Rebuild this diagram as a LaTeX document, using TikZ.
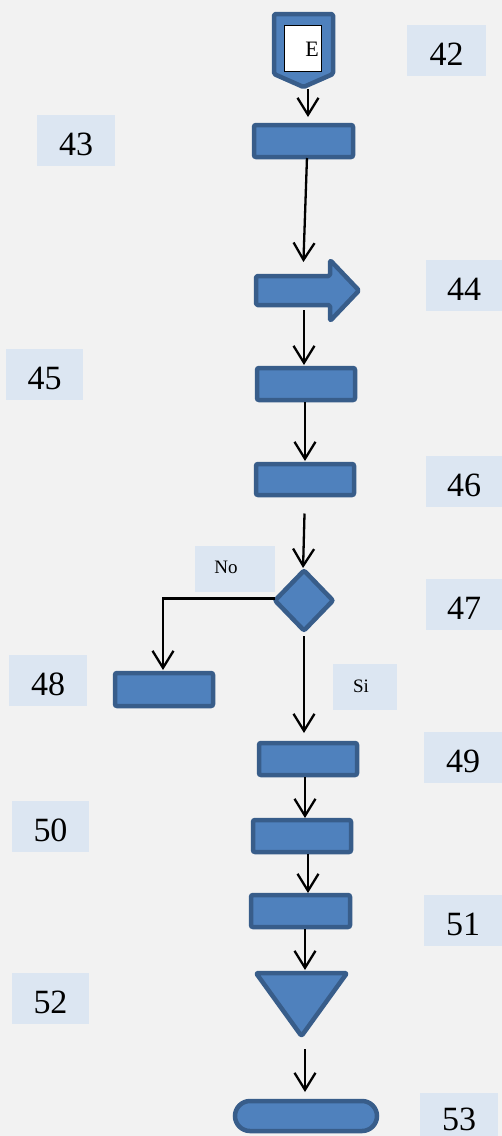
\documentclass[tikz,border=0pt]{standalone}
\usepackage{fontspec}
\setmainfont{Liberation Serif}
\usetikzlibrary{arrows.meta,shapes.geometric,shapes.misc}
\definecolor{bgc}{HTML}{F2F2F2}
\definecolor{fillc}{HTML}{4F81BD}
\definecolor{bordc}{HTML}{385D8A}
\definecolor{lblc}{HTML}{DCE6F2}
\tikzset{
  shapebox/.style={draw=bordc, fill=fillc, line width=4.5pt, rounded corners=2pt,
    inner sep=0pt, outer sep=0pt},
  procbox/.style={shapebox, rectangle, minimum width=98pt, minimum height=32pt},
  shapepath/.style={draw=bordc, fill=fillc, line width=4.5pt, line join=round, rounded corners=1.5pt},
  numbox/.style={fill=lblc, inner sep=0pt, text height=29pt, text depth=0pt,
    font=\fontsize{34}{34}\selectfont},
  smalltxt/.style={inner sep=0pt, font=\fontsize{19}{19}\selectfont},
  link/.style={line width=2.3pt},
  arr/.style={link, -{Straight Barb[length=17pt,width=21pt]}}
}
\begin{document}
\begin{tikzpicture}[x=1pt,y=-1pt]
\fill[bgc] (0,0) rectangle (502,1136);
\useasboundingbox (0,0) rectangle (502,1136);

% number tags
\node[numbox, minimum width=79pt, minimum height=51pt] (n42) at (446.5,50.5) {42};
\node[numbox, minimum width=78pt, minimum height=51pt] (n43) at (76,140.5) {43};
\node[numbox, minimum width=76pt, minimum height=51pt] (n44) at (464,285.5) {44};
\node[numbox, minimum width=77pt, minimum height=51pt] (n45) at (44.5,374.5) {45};
\node[numbox, minimum width=76pt, minimum height=51pt] (n46) at (464,481.5) {46};
\node[numbox, minimum width=76pt, minimum height=51pt] (n47) at (464,604.5) {47};
\node[numbox, minimum width=78pt, minimum height=51pt] (n48) at (48,680.5) {48};
\node[numbox, minimum width=78pt, minimum height=51pt] (n49) at (463,757.5) {49};
\node[numbox, minimum width=77pt, minimum height=51pt] (n50) at (50.5,826.5) {50};
\node[numbox, minimum width=78pt, minimum height=51pt] (n51) at (463,920.5) {51};
\node[numbox, minimum width=77pt, minimum height=51pt] (n52) at (50.5,998.5) {52};
\node[numbox, minimum width=78pt, minimum height=43pt, text height=31pt] (n53) at (459,1114.5) {53};

% branch tags
\fill[lblc] (195,546) rectangle (275,592);
\node[smalltxt] (no) at (226,567) {No};
\fill[lblc] (333,664) rectangle (397,710);
\node[smalltxt] (si) at (361,686) {Si};

% off-page connector with its entry mark
\draw[shapepath] (274,14) -- (333,14) -- (333,74) -- (303.5,87) -- (274,74) -- cycle;
\node[draw=black, line width=0.8pt, fill=white, minimum width=37pt, minimum height=46pt,
  inner sep=0pt] (e42box) at (303,48.5) {};
\node[inner sep=0pt, font=\fontsize{22}{22}\selectfont] (e42txt) at (312,49) {E};
\coordinate (e42) at (308,89);

% process boxes
\node[procbox, minimum width=99pt] (r43) at (303.5,141) {};
\node[procbox] (r45) at (306,384) {};
\node[procbox, minimum height=31pt] (r46) at (305,479.5) {};
\node[procbox, minimum height=33pt] (r48) at (164,689.5) {};
\node[procbox] (r49) at (308,759) {};
\node[procbox] (r50) at (302,836) {};
\node[procbox, minimum width=99pt] (r51) at (300.5,911) {};

% block arrow
\draw[shapepath] (256,276) -- (330,276) -- (330,260) -- (359,290.5) -- (330,321)
  -- (330,305) -- (256,305) -- cycle;
\coordinate (b44n) at (303,274);
\coordinate (b44s) at (304,307);

% decision
\node[shapebox, diamond, minimum width=58pt, minimum height=60pt] (d47) at (304,600.5) {};

% merge triangle
\draw[shapepath] (256,973) -- (347,973) -- (301.5,1036) -- cycle;
\coordinate (t52n) at (305,973);
\coordinate (t52s) at (305,1040);

% terminator
\node[draw=bordc, fill=fillc, line width=4.5pt, inner sep=0pt, outer sep=0pt,
  rounded rectangle, minimum width=142pt, minimum height=30pt] (t53) at (306,1116) {};

% connectors
\draw[arr, shorten >=8pt] (e42) -- ([xshift=4.5pt]r43.north);
\draw[arr, shorten <=1pt, shorten >=12pt] ([xshift=3.5pt]r43.south) -- (b44n);
\draw[arr, shorten <=3pt, shorten >=3pt] (b44s) -- ([xshift=-2pt]r45.north);
\draw[arr, shorten <=2pt, shorten >=3pt] ([xshift=-1pt]r45.south) -- (r46.north);
\draw[arr, shorten <=18.5pt, shorten >=2.5pt] (r46.south) -- ([xshift=-1pt]d47.north);
\draw[arr, shorten >=3pt] ([yshift=2pt]d47.west) -| ([xshift=-1pt]r48.north);
\draw[arr, shorten <=5.5pt, shorten >=10pt] (d47.south) -- ([xshift=-4pt]r49.north);
\draw[arr, shorten <=2pt, shorten >=2pt] ([xshift=-3pt]r49.south) -- ([xshift=3pt]r50.north);
\draw[arr, shorten <=2pt, shorten >=2pt] ([xshift=6pt]r50.south) -- ([xshift=7.5pt]r51.north);
\draw[arr, shorten <=2pt, shorten >=3pt] ([xshift=4.5pt]r51.south) -- (t52n);
\draw[arr, shorten <=9pt, shorten >=9pt] (t52s) -- ([xshift=-1pt]t53.north);
\end{tikzpicture}
\end{document}
